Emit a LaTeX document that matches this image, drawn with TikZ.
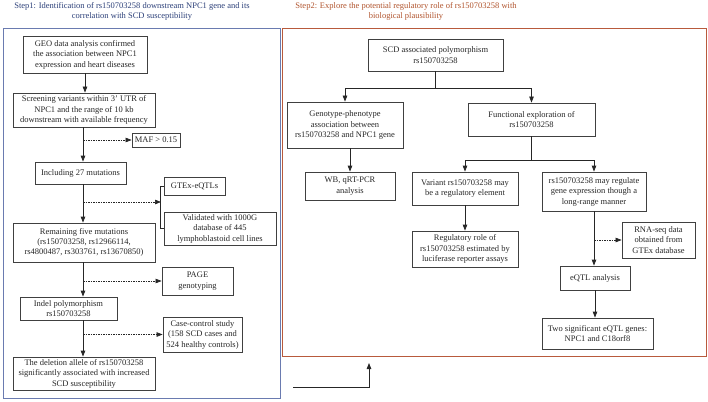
\documentclass[tikz,border=0pt]{standalone}
\usepackage{fontspec}
\setmainfont{Liberation Serif}
\usetikzlibrary{arrows.meta}
\definecolor{boxc}{HTML}{404040}
\definecolor{tonec}{HTML}{2B3F78}
\definecolor{ttwoc}{HTML}{B0532C}
\definecolor{fonec}{HTML}{6A7BB0}
\definecolor{ftwoc}{HTML}{B85A3C}
\begin{document}
\begin{tikzpicture}[x=1pt,y=-1pt,
  box/.style={draw=boxc, line width=0.8pt, align=center, inner sep=1pt, text=black!85,
    font=\fontsize{8.5}{10.5}\selectfont},
  ttl/.style={align=center, inner sep=0pt, font=\fontsize{8.5}{10}\selectfont},
  arr/.style={draw=black!85, line width=0.8pt, -{Triangle[length=6pt,width=4.5pt]}},
  darr/.style={draw=black!85, line width=0.7pt, dash pattern=on 1.5pt off 1pt, -{Triangle[length=6pt,width=4.5pt]}},
  ln/.style={draw=black!85, line width=0.8pt}]
\useasboundingbox (0,0) rectangle (708,401);
% titles
\node[ttl, text=tonec] (t1) at (132,11) {Step1: Identification of rs150703258 downstream NPC1 gene and its\\correlation with SCD susceptibility};
\node[ttl, text=ttwoc] (t2) at (406,11) {Step2: Explore the potential regulatory role of rs150703258 with\\biological plausibility};
% frames
\draw[fonec, line width=0.9pt] (3,28) rectangle (280,398);
\draw[ftwoc, line width=0.9pt] (282,28) rectangle (706,356);
% left panel
\node[box, minimum width=124pt, minimum height=37pt] (geo) at (85,54.5) {GEO data analysis confirmed\\the association between NPC1\\expression and heart diseases};
\node[box, minimum width=142pt, minimum height=34pt] (scr) at (84,110) {Screening variants within 3' UTR of\\NPC1 and the range of 10 kb\\downstream with available frequency};
\node[box, minimum width=48pt, minimum height=14pt] (maf) at (156,140) {MAF > 0.15};
\node[box, minimum width=91pt, minimum height=22pt] (inc) at (80.5,173) {Including 27 mutations};
\node[box, minimum width=61pt, minimum height=18pt] (gtex) at (194.5,186) {GTEx-eQTLs};
\node[box, minimum width=112pt, minimum height=33pt] (val) at (220,228.5) {Validated with 1000G\\database of 445\\lymphoblastoid cell lines};
\node[box, minimum width=142pt, minimum height=39pt, font=\fontsize{8.5}{9.6}\selectfont] (rem) at (84,242.5) {Remaining five mutations\\(rs150703258, rs12966114,\\rs4800487, rs303761, rs13670850)};
\node[box, minimum width=71pt, minimum height=28pt] (page) at (197.5,281) {PAGE\\genotyping};
\node[box, minimum width=97pt, minimum height=23pt] (indel) at (68.5,308.5) {Indel polymorphism\\rs150703258};
\node[box, minimum width=79pt, minimum height=35pt] (case) at (202.5,334.5) {Case-control study\\(158 SCD cases and\\524 healthy controls)};
\node[box, minimum width=142pt, minimum height=33pt] (del) at (84,373.5) {The deletion allele of rs150703258\\significantly associated with increased\\SCD susceptibility};
\coordinate (spine) at (83,0);
\coordinate (brk) at (161,202);
\draw[arr] (geo.south) -- (geo.south |- scr.north);
\draw[arr] (scr.south -| spine) -- (inc.north -| spine);
\draw[darr] (maf.west -| spine) -- (maf.west);
\draw[arr] (inc.south -| spine) -- (rem.north -| spine);
\draw[ln] (gtex.west) -- ++(-3,0) |- (val.west);
\draw[darr] (brk -| spine) -- (brk);
\draw[arr] (rem.south -| spine) -- (indel.north -| spine);
\draw[darr] (page.west -| spine) -- (page.west);
\draw[arr] (indel.south -| spine) -- (del.north -| spine);
\draw[darr] (case.west -| spine) -- (case.west);
% right panel
\node[box, minimum width=135pt, minimum height=32pt] (scd) at (435.5,55) {SCD associated polymorphism\\rs150703258};
\node[box, minimum width=116pt, minimum height=46pt] (geno) at (345,125) {Genotype-phenotype\\association between\\rs150703258 and NPC1 gene};
\node[box, minimum width=127pt, minimum height=33pt] (func) at (531.5,119.5) {Functional exploration of\\rs150703258};
\node[box, minimum width=90pt, minimum height=28pt] (wb) at (350,186) {WB, qRT-PCR\\analysis};
\node[box, minimum width=106pt, minimum height=33pt] (var) at (465,188.5) {Variant rs150703258 may\\be a regulatory element};
\node[box, minimum width=104pt, minimum height=39pt] (rsm) at (594,191.5) {rs150703258 may regulate\\gene expression though a\\long-range manner};
\node[box, minimum width=106pt, minimum height=36pt] (reg) at (465,249) {Regulatory role of\\rs150703258 estimated by\\luciferase reporter assays};
\node[box, minimum width=73pt, minimum height=36pt] (rna) at (658.5,240) {RNA-seq data\\obtained from\\GTEx database};
\node[box, minimum width=70pt, minimum height=24pt] (eqtl) at (595,278) {eQTL analysis};
\node[box, minimum width=111pt, minimum height=31pt] (two) at (597.5,333.5) {Two significant eQTL genes:\\NPC1 and C18orf8};
\draw[ln] (scd.south) -- ++(0,17) coordinate (sj);
\draw[arr] (sj) -| (geno.north);
\draw[arr] (sj) -| (func.north);
\draw[arr] (geno.south -| wb.north) -- (wb.north);
\draw[ln] (func.south) -- ++(0,24) coordinate (fj);
\draw[arr] (fj) -| (var.north);
\draw[arr] (fj) -| (rsm.north);
\draw[arr] (var.south) -- (reg.north);
\draw[arr] (rsm.south) -- (rsm.south |- eqtl.north);
\draw[darr] (rna.west -| rsm.south) -- (rna.west);
\draw[arr] (eqtl.south) -- (eqtl.south |- two.north);
% bottom arrow
\coordinate (ba) at (293,387);
\coordinate (bb) at (369,363);
\draw[arr] (ba) -| (bb);
\end{tikzpicture}
\end{document}
